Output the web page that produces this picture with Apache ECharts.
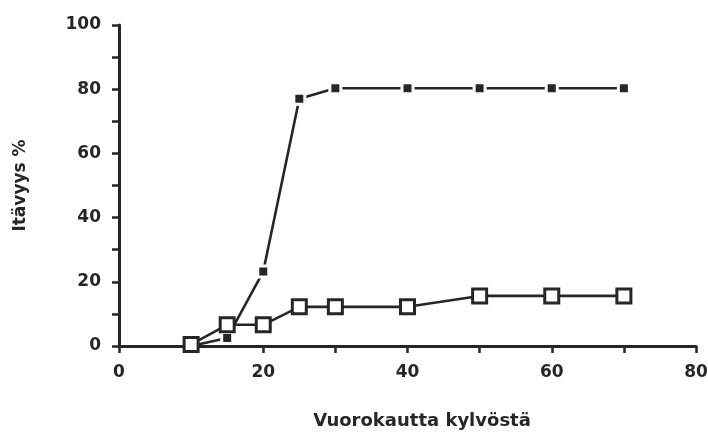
<!DOCTYPE html>
<html>
<head>
<meta charset="utf-8">
<script src="https://cdn.jsdelivr.net/npm/echarts@6/dist/echarts.min.js"></script>
<style>
html,body{margin:0;padding:0;background:#fff;}
#chart{width:708px;height:432px;}
</style>
</head>
<body>
<div id="chart"></div>
<script>
const days = [10, 15, 20, 25, 30, 40, 50, 60, 70];
const filledValues = [0, 2.5, 23.2, 77, 80.3, 80.3, 80.3, 80.3, 80.3];
const openValues = [0.5, 6.6, 6.6, 12.2, 12.2, 12.2, 15.6, 15.6, 15.6];
const xTickLabels = [0, 20, 40, 60, 80];
const yTickLabels = [0, 20, 40, 60, 80, 100];
const xTitle = 'Vuorokautta kylvöstä';
const yTitle = 'Itävyys %';

const ink = '#262626';
const font = 'DejaVu Sans';

const chart = echarts.init(document.getElementById('chart'), null, {renderer: 'canvas'});
chart.setOption({
  animation: false,
  backgroundColor: '#fff',
  grid: {left: 119, right: 12, top: 25, bottom: 86, containLabel: false, outerBoundsMode: 'none'},
  xAxis: {
    type: 'value', min: 0, max: 80, interval: 10,
    name: xTitle, nameLocation: 'middle', nameGap: 66,
    nameTextStyle: {fontFamily: font, fontWeight: 'bold', fontSize: 18, color: ink, padding: [0, 0, 0, 29]},
    axisLine: {show: true, lineStyle: {color: ink, width: 3}},
    axisTick: {show: true, inside: false, length: 7, lineStyle: {color: ink, width: 2.5}},
    axisLabel: {
      margin: 18, fontFamily: font, fontWeight: 'bold', fontSize: 17, color: ink,
      formatter: v => xTickLabels.includes(v) ? String(v) : ''
    },
    splitLine: {show: false}
  },
  yAxis: {
    type: 'value', min: 0, max: 100, interval: 10,
    name: yTitle, nameLocation: 'middle', nameGap: 90, nameRotate: 90,
    nameTextStyle: {fontFamily: font, fontWeight: 'bold', fontSize: 17, color: ink},
    axisLine: {show: true, lineStyle: {color: ink, width: 3}},
    axisTick: {show: true, inside: false, length: 7, lineStyle: {color: ink, width: 2.5}},
    axisLabel: {
      margin: 18, fontFamily: font, fontWeight: 'bold', fontSize: 17, color: ink,
      formatter: v => yTickLabels.includes(v) ? String(v) : ''
    },
    splitLine: {show: false}
  },
  series: [
    {
      type: 'line', z: 2,
      data: days.map((d, i) => [d, filledValues[i]]),
      symbol: 'rect', symbolSize: 11, showAllSymbol: true,
      lineStyle: {color: ink, width: 2.6},
      itemStyle: {color: ink, borderColor: '#fff', borderWidth: 3},
      emphasis: {disabled: true}
    },
    {
      type: 'line', z: 3,
      data: days.map((d, i) => [d, openValues[i]]),
      symbol: 'rect', symbolSize: 14, showAllSymbol: true,
      lineStyle: {color: ink, width: 2.6},
      itemStyle: {color: '#fff', borderColor: ink, borderWidth: 3},
      emphasis: {disabled: true}
    }
  ]
});
</script>
</body>
</html>
